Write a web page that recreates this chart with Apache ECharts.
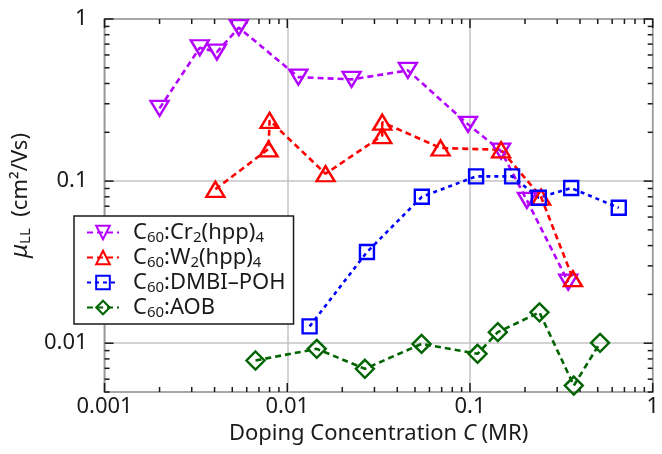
<!DOCTYPE html>
<html>
<head>
<meta charset="utf-8">
<script src="https://cdn.jsdelivr.net/npm/echarts@6/dist/echarts.min.js"></script>
<style>
  html, body { margin: 0; padding: 0; background: #fff; }
  #chart { width: 662px; height: 454px; }
</style>
</head>
<body>
<div id="chart"></div>
<script>
// Doping concentration C (MR) and linear-regime mobility (cm²/Vs) per dopant
const crX   = [0.00200, 0.00332, 0.00412, 0.00543, 0.0115, 0.0225, 0.0457, 0.0975, 0.148, 0.205, 0.345];
const crY   = [0.281, 0.665, 0.625, 0.885, 0.438, 0.424, 0.482, 0.224, 0.153, 0.076, 0.0238];
const wX    = [0.00404, 0.0079, 0.0080, 0.0162, 0.0331, 0.0331, 0.069, 0.148, 0.245, 0.366];
const wY    = [0.089, 0.158, 0.237, 0.111, 0.191, 0.231, 0.160, 0.156, 0.0797, 0.025];
const dmbiX = [0.01325, 0.0273, 0.0545, 0.108, 0.170, 0.238, 0.358, 0.652];
const dmbiY = [0.0127, 0.0365, 0.080, 0.107, 0.107, 0.079, 0.0906, 0.0685];
const aobX  = [0.0067, 0.0145, 0.0266, 0.0543, 0.110, 0.142, 0.240, 0.370, 0.515];
const aobY  = [0.00782, 0.00923, 0.00695, 0.0099, 0.0086, 0.0117, 0.0155, 0.00548, 0.01005];

const seriesNames = ['C60:Cr2(hpp)4', 'C60:W2(hpp)4', 'C60:DMBI-POH', 'C60:AOB'];
const xTickLabels = ['0.001', '0.01', '0.1', '1'];
const yTickLabels = ['0.01', '0.1', '1'];

const FONT = 'Noto Sans';
const FS = 22;
const pair = (xs, ys) => xs.map((x, i) => [x, ys[i]]);

// legend labels with subscripts
const richName = {
  'C60:Cr2(hpp)4': '{f|C}{s|60}{n|:Cr}{s|2}{n|(hpp)}{s|4}',
  'C60:W2(hpp)4': '{f|C}{s|60}{n|:W}{s|2}{n|(hpp)}{s|4}',
  'C60:DMBI-POH': '{f|C}{s|60}{n|:DMBI\u2013POH}',
  'C60:AOB': '{f|C}{s|60}{n|:AOB}'
};

function isDecade(v) {
  const l = Math.log10(v);
  return Math.abs(l - Math.round(l)) < 1e-6;
}
function decadeLabel(v, list) {
  if (!isDecade(v)) return '';
  const hit = list.find(s => Math.abs(Math.log10(parseFloat(s)) - Math.log10(v)) < 1e-6);
  return hit || '';
}

function lineSeries(name, data, color, symbol, size, rotate, dash) {
  return {
    name, type: 'line', data,
    symbol, symbolSize: size, symbolRotate: rotate,
    showSymbol: true,
    lineStyle: { color, width: 2.6, type: dash },
    itemStyle: { color: 'transparent', borderColor: color, borderWidth: 2.4 },
    emphasis: { disabled: true },
    z: 3
  };
}

const chart = echarts.init(document.getElementById('chart'), null, { renderer: 'canvas' });

const txt = '#1a1a1a';
const option = {
  animation: false,
  backgroundColor: '#fff',
  textStyle: { fontFamily: FONT },
  grid: {
    left: 98, right: 7, top: 19, bottom: 62,
    show: true, borderColor: txt, borderWidth: 1.5, backgroundColor: 'transparent'
  },
  legend: {
    orient: 'vertical', left: 74, top: 216,
    data: seriesNames,
    backgroundColor: '#fff', borderColor: txt, borderWidth: 1.5, borderRadius: 0,
    padding: [4, 8, 4, 12], itemGap: 0, itemWidth: 32, itemHeight: 17,
    formatter: n => richName[n],
    textStyle: {
      color: txt,
      rich: {
        f: { fontFamily: FONT, fontSize: FS, color: txt, lineHeight: 22, padding: [0, 0, 0, 9] },
        n: { fontFamily: FONT, fontSize: FS, color: txt, lineHeight: 22 },
        s: { fontFamily: FONT, fontSize: 15, color: txt, lineHeight: 22, padding: [10, 0, 0, 0] }
      }
    },
    selectedMode: false
  },
  xAxis: {
    type: 'log', logBase: 10, min: 0.001, max: 1,
    axisLine: { show: false },
    axisTick: { show: false },
    splitLine: { show: true, lineStyle: { color: '#c4c4c4', width: 1.5 } },
    axisLabel: {
      fontFamily: FONT, fontSize: FS, color: txt, margin: 4,
      formatter: v => decadeLabel(v, xTickLabels)
    },
    name: '{n|Doping Concentration }{i|C}{n| (MR)}',
    nameLocation: 'middle', nameGap: 29,
    nameTextStyle: {
      rich: {
        n: { fontFamily: FONT, fontSize: FS, color: txt },
        i: { fontFamily: FONT, fontSize: FS, color: txt, fontStyle: 'italic' }
      }
    }
  },
  yAxis: {
    type: 'log', logBase: 10, min: 0.005, max: 1,
    axisLine: { show: false },
    axisTick: { show: false },
    splitLine: { show: true, lineStyle: { color: '#c4c4c4', width: 1.5 } },
    axisLabel: {
      fontFamily: FONT, fontSize: FS, color: txt, margin: 17,
      formatter: v => decadeLabel(v, yTickLabels)
    },
    name: '{i|\u03bc}{s|LL}{n|  (cm\u00b2/Vs)}',
    nameLocation: 'middle', nameGap: 62, nameRotate: 90,
    nameTextStyle: {
      padding: [0, 0, 0, 20],
      rich: {
        n: { fontFamily: FONT, fontSize: FS, color: txt, lineHeight: 24 },
        i: { fontFamily: FONT, fontSize: 24, color: txt, fontStyle: 'italic', lineHeight: 24 },
        s: { fontFamily: FONT, fontSize: 15, color: txt, lineHeight: 24, padding: [10, 0, 0, 0] }
      }
    }
  },
  series: [
    lineSeries(seriesNames[0], pair(crX, crY), '#b400ff', 'triangle', [18, 15], 180, [6, 4]),
    lineSeries(seriesNames[1], pair(wX, wY), '#ff0000', 'triangle', [18, 15], 0, [6, 4]),
    lineSeries(seriesNames[2], pair(dmbiX, dmbiY), '#0000ff', 'rect', 14, 0, [4, 4]),
    lineSeries(seriesNames[3], pair(aobX, aobY), '#006400', 'diamond', 18, 0, [6, 4])
  ]
};

chart.setOption(option);

// log-scale major and minor ticks drawn inside all four frame edges
function buildTicks() {
  const els = [];
  const px = v => chart.convertToPixel({ xAxisIndex: 0 }, v);
  const py = v => chart.convertToPixel({ yAxisIndex: 0 }, v);
  const top = py(1), bottom = py(0.005), left = px(0.001), right = px(1);
  const add = (x1, y1, x2, y2) => els.push({
    type: 'line', z: 3, silent: true,
    shape: { x1, y1, x2, y2 }, style: { stroke: txt, lineWidth: 1.5 }
  });
  for (let d = -3; d <= 0; d++) {
    for (let m = 1; m <= 9; m++) {
      const v = m * Math.pow(10, d);
      if (v < 0.001 - 1e-12 || v > 1 + 1e-12) continue;
      const x = px(v);
      const len = m === 1 ? 9 : 5;
      add(x, bottom, x, bottom - len);
      add(x, top, x, top + len);
    }
  }
  for (let d = -3; d <= 0; d++) {
    for (let m = 1; m <= 9; m++) {
      const v = m * Math.pow(10, d);
      if (v < 0.005 - 1e-12 || v > 1 + 1e-12) continue;
      const y = py(v);
      const len = m === 1 ? 9 : 5;
      add(left, y, left + len, y);
      add(right, y, right - len, y);
    }
  }
  chart.setOption({ graphic: els });
}
buildTicks();
</script>
</body>
</html>
